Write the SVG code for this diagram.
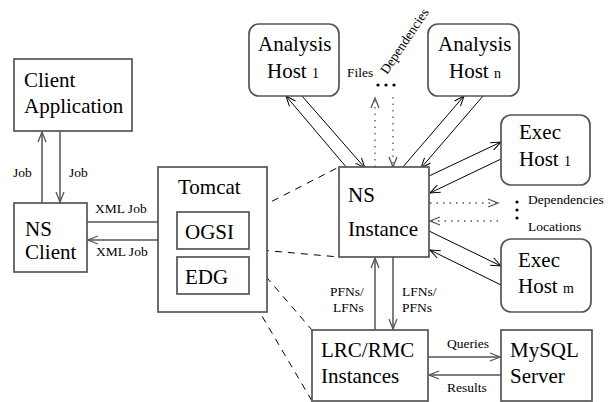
<svg xmlns="http://www.w3.org/2000/svg" width="608" height="402" viewBox="0 0 608 402">
  <defs>
    <marker id="open" markerUnits="userSpaceOnUse" markerWidth="12" markerHeight="10" refX="10" refY="4" orient="auto" overflow="visible">
      <path d="M0,0 L10,4 L0,8" fill="none" stroke-width="1.2" stroke="context-stroke"/>
    </marker>
    <marker id="openk" markerUnits="userSpaceOnUse" markerWidth="12" markerHeight="10" refX="10" refY="4" orient="auto" overflow="visible">
      <path d="M0,0 L10,4 L0,8" fill="none" stroke="#000" stroke-width="1"/>
    </marker>
    <marker id="openg" markerUnits="userSpaceOnUse" markerWidth="12" markerHeight="10" refX="10" refY="4" orient="auto" overflow="visible">
      <path d="M0,0 L10,4 L0,8" fill="none" stroke="#555" stroke-width="1.3"/>
    </marker>
  </defs>
  <style>
    .box { fill: #fff; stroke: #555; stroke-width: 1.7; }
    .lbl { font-family: "Liberation Serif", "Times New Roman", serif; font-size: 21px; fill: #000; }
    .sm { font-family: "Liberation Serif", "Times New Roman", serif; font-size: 13.5px; fill: #000; }
    .sub { font-family: "Liberation Serif", "Times New Roman", serif; font-size: 14px; fill: #000; }
    .g { fill: none; stroke: #555; stroke-width: 1.5; marker-end: url(#openg); }
    .k { fill: none; stroke: #000; stroke-width: 1; marker-end: url(#openk); }
    .dot { fill: none; stroke: #555; stroke-width: 1.3; stroke-dasharray: 1.5 5; marker-end: url(#openg); }
    .dash { fill: none; stroke: #000; stroke-width: 1; stroke-dasharray: 7 6; }
  </style>

  <!-- connectors -->
  <g id="connectors">
    <!-- Client Application <-> NS Client -->
    <line class="g" x1="42" y1="203" x2="42" y2="132"/>
    <line class="g" x1="60" y1="131" x2="60" y2="202"/>
    <!-- NS Client <-> OGSI -->
    <line class="g" x1="87" y1="222" x2="176" y2="222"/>
    <line class="g" x1="177" y1="240" x2="88" y2="240"/>
    <!-- Tomcat to NS Instance / LRC (dashed) -->
    <line class="dash" x1="249" y1="213" x2="339" y2="167"/>
    <line class="dash" x1="249" y1="249" x2="339" y2="257"/>
    <line class="dash" x1="249" y1="257" x2="312" y2="330"/>
    <line class="dash" x1="249" y1="294" x2="312" y2="401"/>
    <!-- NS Instance <-> Analysis hosts -->
    <line class="k" x1="347" y1="168" x2="286" y2="96"/>
    <line class="k" x1="302" y1="96" x2="365" y2="168"/>
    <line class="k" x1="402" y1="168" x2="464" y2="96"/>
    <line class="k" x1="483" y1="96" x2="421" y2="168"/>
    <!-- NS Instance <-> Exec hosts -->
    <line class="k" x1="429" y1="176" x2="501" y2="142"/>
    <line class="k" x1="501" y1="159" x2="430" y2="193"/>
    <line class="k" x1="429" y1="231" x2="501" y2="266"/>
    <line class="k" x1="501" y1="285" x2="430" y2="250"/>
    <!-- files / dependencies (dotted) -->
    <line class="dot" x1="375" y1="167" x2="375" y2="98"/>
    <line class="dot" x1="393" y1="97" x2="393" y2="167"/>
    <line class="dot" x1="430" y1="203" x2="498" y2="203"/>
    <line class="dot" x1="498" y1="221" x2="430" y2="221"/>
    <!-- NS Instance <-> LRC/RMC -->
    <line class="g" x1="375" y1="330" x2="375" y2="258"/>
    <line class="g" x1="393" y1="257" x2="393" y2="329"/>
    <!-- LRC/RMC <-> MySQL -->
    <line class="g" x1="428" y1="357" x2="500" y2="357"/>
    <line class="g" x1="501" y1="375" x2="429" y2="375"/>
    <!-- ellipses -->
    <circle cx="378" cy="85" r="1.6"/>
    <circle cx="386" cy="85" r="1.6"/>
    <circle cx="394" cy="85" r="1.6"/>
    <circle cx="517" cy="202" r="1.6"/>
    <circle cx="517" cy="210" r="1.6"/>
    <circle cx="517" cy="218" r="1.6"/>
    <!-- connector labels -->
    <text class="sm" x="13" y="177">Job</text>
    <text class="sm" x="69" y="177">Job</text>
    <text class="sm" x="95" y="213">XML Job</text>
    <text class="sm" x="96" y="256">XML Job</text>
    <text class="sm" x="347" y="77">Files</text>
    <text class="sm" transform="translate(387,75) rotate(-56)">Dependencies</text>
    <text class="sm" x="528" y="204">Dependencies</text>
    <text class="sm" x="528" y="231">Locations</text>
    <text class="sm" x="330" y="296">PFNs/</text>
    <text class="sm" x="333" y="312">LFNs</text>
    <text class="sm" x="402" y="296">LFNs/</text>
    <text class="sm" x="402" y="312">PFNs</text>
    <text class="sm" x="447" y="348">Queries</text>
    <text class="sm" x="447" y="392">Results</text>
  </g>

  <g id="client-application">
    <rect class="box" x="14" y="59" width="118" height="72"/>
    <text class="lbl" x="24" y="87">Client</text>
    <text class="lbl" x="24" y="113">Application</text>
  </g>

  <g id="ns-client">
    <rect class="box" x="14" y="203" width="73" height="69"/>
    <text class="lbl" x="25" y="236">NS</text>
    <text class="lbl" x="25" y="259">Client</text>
  </g>

  <g id="tomcat">
    <rect class="box" x="158" y="167" width="109" height="145"/>
    <text class="lbl" x="178" y="194">Tomcat</text>
  </g>

  <g id="ogsi">
    <rect class="box" x="177" y="212" width="72" height="37"/>
    <text class="lbl" x="185" y="239">OGSI</text>
  </g>

  <g id="edg">
    <rect class="box" x="177" y="257" width="72" height="37"/>
    <text class="lbl" x="185" y="284">EDG</text>
  </g>

  <g id="analysis-host-1">
    <rect class="box" x="249" y="24" width="90" height="72" rx="10"/>
    <text class="lbl" x="258" y="51">Analysis</text>
    <text class="lbl" x="267" y="78">Host <tspan class="sub" font-size="14">1</tspan></text>
  </g>

  <g id="analysis-host-n">
    <rect class="box" x="428" y="24" width="91" height="72" rx="10"/>
    <text class="lbl" x="438" y="51">Analysis</text>
    <text class="lbl" x="449" y="78">Host <tspan font-size="14">n</tspan></text>
  </g>

  <g id="ns-instance">
    <rect class="box" x="339" y="167" width="90" height="90"/>
    <text class="lbl" x="348" y="202">NS</text>
    <text class="lbl" x="348" y="236">Instance</text>
  </g>

  <g id="exec-host-1">
    <rect class="box" x="501" y="115" width="89" height="70" rx="10"/>
    <text class="lbl" x="519" y="139">Exec</text>
    <text class="lbl" x="519" y="166">Host <tspan font-size="14">1</tspan></text>
  </g>

  <g id="exec-host-m">
    <rect class="box" x="501" y="239" width="90" height="73" rx="10"/>
    <text class="lbl" x="518" y="267">Exec</text>
    <text class="lbl" x="518" y="293">Host <tspan font-size="14">m</tspan></text>
  </g>

  <g id="lrc-rmc">
    <rect class="box" x="312" y="330" width="116" height="71"/>
    <text class="lbl" x="321" y="357">LRC/RMC</text>
    <text class="lbl" x="321" y="383">Instances</text>
  </g>

  <g id="mysql">
    <rect class="box" x="501" y="330" width="91" height="71"/>
    <text class="lbl" x="510" y="357">MySQL</text>
    <text class="lbl" x="510" y="383">Server</text>
  </g>
</svg>
